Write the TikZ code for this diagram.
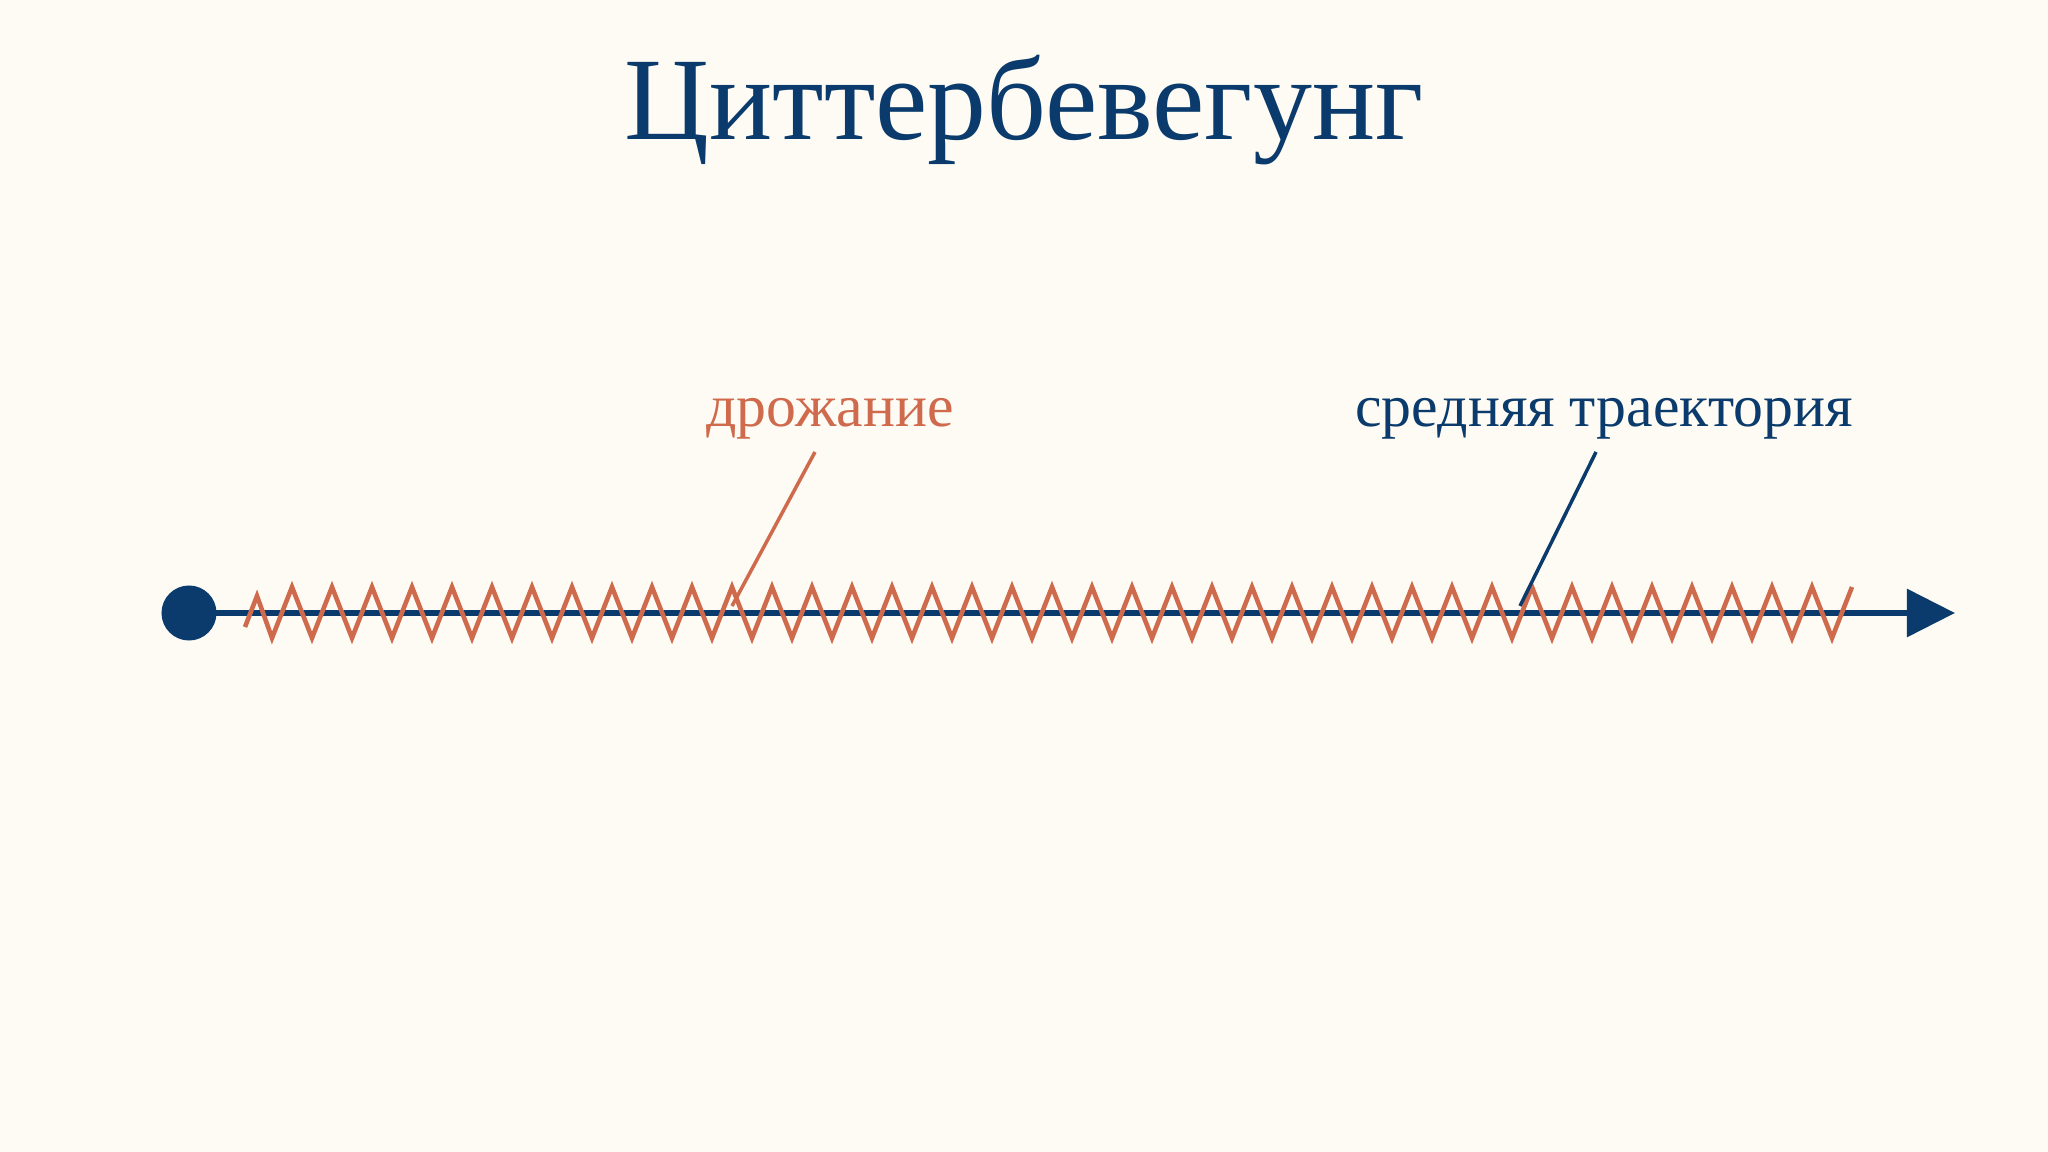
\documentclass[tikz,border=0pt]{standalone}
\usepackage{fontspec}
\setmainfont{Liberation Serif}
\usepackage{tikz}
\usetikzlibrary{arrows.meta,calc,positioning}

\definecolor{paper}{HTML}{FDFBF4}
\definecolor{navy}{HTML}{0A3B6C}
\definecolor{rust}{HTML}{CF6A4C}

\begin{document}
\begin{tikzpicture}[x=0.01cm,y=-0.01cm,
  axis/.style={navy,line width=1.7pt,-{Triangle[length=0.48cm,width=0.47cm]}},
  jitter/.style={rust,line width=1.3pt,line join=miter},
  leader/.style={line width=1pt},
  dot/.style={circle,fill=navy,inner sep=0pt,minimum size=0.55cm}]
\fill[paper] (0,0) rectangle (2048,1152);
\useasboundingbox (0,0) rectangle (2048,1152);
\node[navy,anchor=base,font=\fontsize{33.5}{40}\selectfont] (title) at (1024,140) {Циттербевегунг};
\node[rust,anchor=base,font=\fontsize{17}{20}\selectfont] (jitlabel) at (830,427) {дрожание};
\node[navy,anchor=base,font=\fontsize{17}{20}\selectfont] (meanlabel) at (1604,427) {средняя траектория};
\node[dot] (origin) at (189,613) {};
\coordinate (axisend) at (1955,613);
\draw[axis] (origin.center) -- (axisend);
% oscillation around the mean path
\draw[jitter] (245,627) -- (257,596)
  \foreach \k in {0,...,39} { -- ({272+40*\k},638) -- ({292+40*\k},587) };
\coordinate (jitfoot) at (815,452);
\coordinate (jithit) at (732,606);
\coordinate (meanfoot) at (1596,452);
\coordinate (meanhit) at (1520,606);
\draw[leader,rust] (jitfoot) -- (jithit);
\draw[leader,navy] (meanfoot) -- (meanhit);
\end{tikzpicture}
\end{document}
